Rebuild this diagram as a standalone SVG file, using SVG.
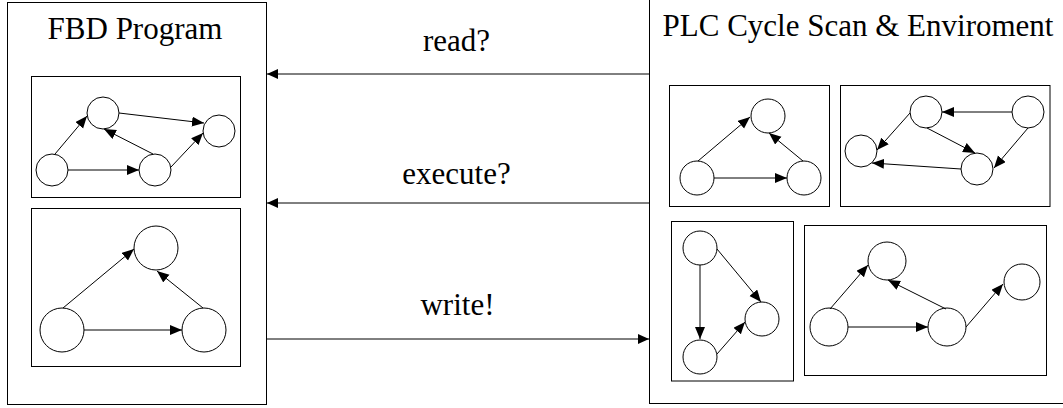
<svg xmlns="http://www.w3.org/2000/svg" width="1063" height="408" viewBox="0 0 1063 408">
<defs>
<style>
.box{fill:#fff;stroke:#000;stroke-width:1}
.n{fill:#fff;stroke:#000;stroke-width:1}
.e{fill:none;stroke:#000;stroke-width:1;marker-end:url(#ah)}
.m{fill:none;stroke:#000;stroke-width:1;marker-end:url(#ahm)}
.t{font-family:"Liberation Serif","Times New Roman",serif;font-size:31px;fill:#000;text-anchor:middle}
</style>
<marker id="ah" markerUnits="userSpaceOnUse" markerWidth="13" markerHeight="11" refX="12" refY="5" orient="auto" viewBox="0 0 13 11">
<path d="M0,0 L12,5 L0,10 z" fill="#000"/>
</marker>
<marker id="ahm" markerUnits="userSpaceOnUse" markerWidth="12" markerHeight="11" refX="11" refY="5" orient="auto" viewBox="0 0 12 11">
<path d="M0,0 L11,5 L0,10 z" fill="#000"/>
</marker>
</defs>
<rect width="1063" height="408" fill="#fff"/>

<g id="fbd-program">
<rect class="box" x="7.5" y="2.5" width="259" height="402"/>
<text class="t" x="135" y="39">FBD Program</text>
</g>

<g id="plc-cycle">
<rect class="box" x="649.5" y="-10" width="430" height="413.5"/>
<text class="t" x="858" y="36">PLC Cycle Scan &amp; Enviroment</text>
</g>

<g id="graph-1">
<rect class="box" x="31.5" y="76.5" width="209" height="121"/>
<circle class="n" cx="52" cy="170" r="16"/>
<circle class="n" cx="103" cy="113" r="16"/>
<circle class="n" cx="155" cy="170" r="16"/>
<circle class="n" cx="219" cy="131" r="16"/>
</g>

<g id="graph-2">
<rect class="box" x="31.5" y="208.5" width="209" height="158"/>
<circle class="n" cx="62" cy="330" r="22"/>
<circle class="n" cx="156" cy="248" r="22"/>
<circle class="n" cx="204" cy="330" r="22"/>
</g>

<g id="graph-3">
<rect class="box" x="669.5" y="85.5" width="160" height="121"/>
<circle class="n" cx="697" cy="178" r="17"/>
<circle class="n" cx="768" cy="116" r="17"/>
<circle class="n" cx="804" cy="178" r="17"/>
</g>

<g id="graph-4">
<rect class="box" x="840.5" y="85.5" width="209.5" height="121"/>
<circle class="n" cx="926" cy="112" r="16"/>
<circle class="n" cx="1028" cy="112" r="16"/>
<circle class="n" cx="861" cy="151" r="16"/>
<circle class="n" cx="977" cy="169" r="16"/>
</g>

<g id="graph-5">
<rect class="box" x="671.5" y="221.5" width="122" height="159.5"/>
<circle class="n" cx="700" cy="248" r="17"/>
<circle class="n" cx="700" cy="357" r="17"/>
<circle class="n" cx="762" cy="319" r="17"/>
</g>

<g id="graph-6">
<rect class="box" x="804.5" y="225.5" width="242" height="150"/>
<circle class="n" cx="829" cy="327" r="19"/>
<circle class="n" cx="887" cy="261" r="19"/>
<circle class="n" cx="947" cy="327" r="19"/>
<circle class="n" cx="1022" cy="282" r="18"/>
</g>

<g id="connectors">
<line class="m" x1="649" y1="74" x2="267" y2="74"/>
<line class="m" x1="649" y1="203" x2="267" y2="203"/>
<line class="m" x1="267" y1="339" x2="649" y2="339"/>
<text class="t" x="456.5" y="51">read?</text>
<text class="t" x="456.5" y="184">execute?</text>
<text class="t" x="457.5" y="315">write!</text>

<line class="e" x1="55" y1="154" x2="87" y2="116"/>
<line class="e" x1="68" y1="170" x2="139" y2="170"/>
<line class="e" x1="153" y1="154" x2="104" y2="129"/>
<line class="e" x1="119" y1="113" x2="204" y2="123"/>
<line class="e" x1="171" y1="167" x2="203" y2="133"/>

<line class="e" x1="63" y1="308" x2="134" y2="249"/>
<line class="e" x1="84" y1="330" x2="182" y2="330"/>
<line class="e" x1="203" y1="308" x2="157" y2="271"/>

<line class="e" x1="698" y1="161" x2="750" y2="117"/>
<line class="e" x1="714" y1="178" x2="787" y2="178"/>
<line class="e" x1="803" y1="161" x2="769" y2="133"/>

<line class="e" x1="1012" y1="112" x2="942" y2="112"/>
<line class="e" x1="910" y1="113" x2="877" y2="150"/>
<line class="e" x1="927" y1="128" x2="975" y2="153"/>
<line class="e" x1="1028" y1="128" x2="994" y2="168"/>
<line class="e" x1="961" y1="169" x2="872" y2="163"/>

<line class="e" x1="700" y1="265" x2="700" y2="339"/>
<line class="e" x1="717" y1="249" x2="761" y2="302"/>
<line class="e" x1="717" y1="354" x2="745" y2="322"/>

<line class="e" x1="830" y1="309" x2="868" y2="265"/>
<line class="e" x1="848" y1="327" x2="928" y2="327"/>
<line class="e" x1="946" y1="309" x2="888" y2="280"/>
<line class="e" x1="966" y1="327" x2="1003" y2="284"/>
</g>
</svg>
